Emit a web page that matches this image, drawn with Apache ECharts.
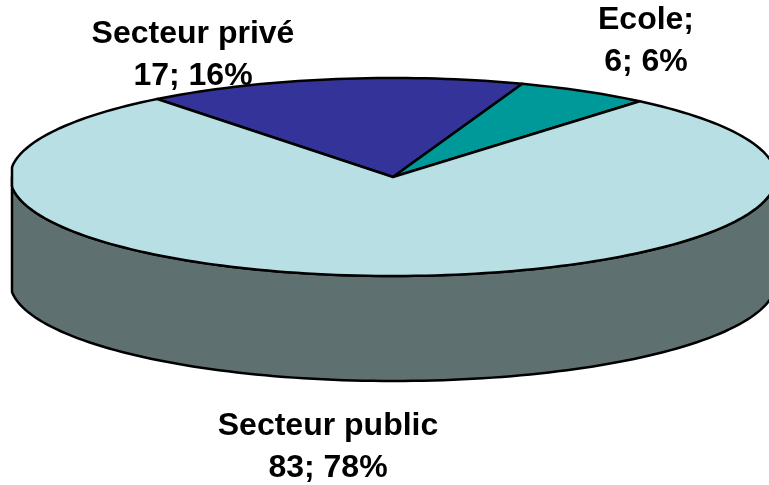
<!DOCTYPE html>
<html>
<head>
<meta charset="utf-8">
<style>
  html, body { margin: 0; padding: 0; background: #fff; }
  #chart { width: 769px; height: 485px; }
</style>
<script src="https://cdn.jsdelivr.net/npm/echarts@6/dist/echarts.min.js"></script>
</head>
<body>
<div id="chart"></div>
<script>
const names = ["Secteur privé", "Ecole", "Secteur public"];
const values = [17, 6, 83];
const labelHeads = ["Secteur privé", "Ecole;", "Secteur public"];
const colors = ["#333399", "#009999", "#B8E0E4"];

// ellipse of the fake 3d pie
const cx = 393, cy = 177, rx = 383, ry = 99, depth = 105;
const leftEdge = 12; // the rim is cut flat here
const startAngle = 128; // degrees, goes clockwise
const wallColor = "#5F7071";
const labelPos = [[193, 55], [646, 41], [328, 447]];

const total = values.reduce((a, b) => a + b, 0);

const rimPoint = (deg, dy) => {
  const a = (deg * Math.PI) / 180;
  return [Math.max(leftEdge, cx + rx * Math.cos(a)), cy - ry * Math.sin(a) + (dy || 0)];
};

// points along the rim from deg a to deg b
const arc = (a, b, dy) => {
  const n = Math.max(2, Math.ceil(Math.abs(b - a) / 1.5));
  const pts = [];
  for (let i = 0; i <= n; i++) pts.push(rimPoint(a + ((b - a) * i) / n, dy));
  return pts;
};

const sliceAngles = (idx) => {
  let before = 0;
  for (let i = 0; i < idx; i++) before += values[i];
  const a0 = startAngle - (before / total) * 360;
  return [a0, a0 - (values[idx] / total) * 360];
};

const wallParts = (a0, a1) => {
  // front of the pie is where sin < 0, i.e. -180..0 and -540..-360 etc
  const parts = [];
  [[0, -180], [-360, -540], [360, 180]].forEach(([hi, lo]) => {
    const from = Math.min(a0, hi), to = Math.max(a1, lo);
    if (from > to) parts.push([from, to]);
  });
  return parts;
};

const lineStyle = { stroke: "#000", lineWidth: 2.5, lineJoin: "round" };

const renderSlice = (params, api) => {
  const idx = params.dataIndex;
  const [a0, a1] = sliceAngles(idx);
  const children = [];
  wallParts(a0, a1).forEach(([from, to]) => {
    children.push({
      type: "polygon",
      z2: 1,
      shape: { points: arc(from, to, 0).concat(arc(to, from, depth)) },
      style: { fill: wallColor, ...lineStyle },
    });
  });
  children.push({
    type: "polygon",
    z2: 2,
    shape: { points: [[cx, cy]].concat(arc(a0, a1, 0)) },
    style: { fill: colors[idx], ...lineStyle },
  });
  const pct = Math.round((api.value(0) / total) * 100);
  children.push({
    type: "text",
    z2: 5,
    style: {
      text: labelHeads[idx] + "\n" + api.value(0) + "; " + pct + "%",
      x: labelPos[idx][0],
      y: labelPos[idx][1],
      align: "center",
      verticalAlign: "middle",
      fontFamily: "Liberation Sans",
      fontWeight: "bold",
      fontSize: 32,
      lineHeight: 42,
      fill: "#000",
    },
  });
  return { type: "group", children };
};

const chart = echarts.init(document.getElementById("chart"));
chart.setOption({
  animation: false,
  backgroundColor: "#fff",
  series: [
    {
      type: "custom",
      coordinateSystem: "none",
      clip: false,
      renderItem: renderSlice,
      data: values.map((v, i) => ({ name: names[i], value: [v] })),
    },
  ],
});
</script>
</body>
</html>
